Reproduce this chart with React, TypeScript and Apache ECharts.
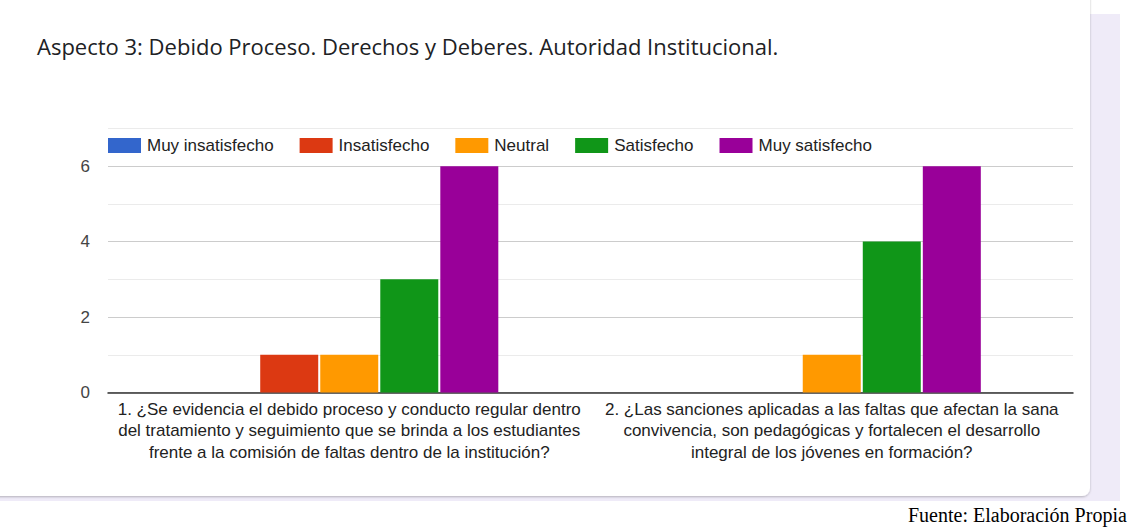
import React, { useEffect, useRef } from "react";
import * as echarts from "echarts";

const categories = [
  "1. ¿Se evidencia el debido proceso y conducto regular dentro\ndel tratamiento y seguimiento que se brinda a los estudiantes\nfrente a la comisión de faltas dentro de la institución?",
  "2. ¿Las sanciones aplicadas a las faltas que afectan la sana\nconvivencia, son pedagógicas y fortalecen el desarrollo\nintegral de los jóvenes en formación?",
];
const seriesNames = ["Muy insatisfecho", "Insatisfecho", "Neutral", "Satisfecho", "Muy satisfecho"];
const seriesColors = ["#3366cc", "#dc3912", "#ff9900", "#109618", "#990099"];
const muyInsatisfecho = [0, 0];
const insatisfecho = [1, 0];
const neutral = [1, 1];
const satisfecho = [3, 4];
const muySatisfecho = [6, 6];
const seriesValues = [muyInsatisfecho, insatisfecho, neutral, satisfecho, muySatisfecho];
const yTicks = [0, 1, 2, 3, 4, 5, 6, 7];

const titleText = "Aspecto 3: Debido Proceso. Derechos y Deberes. Autoridad Institucional.";
const sourceText = "Fuente: Elaboración Propia";

export default function App() {
  const ref = useRef<HTMLDivElement>(null);
  useEffect(() => {
    document.body.style.margin = "0";
    const chart = echarts.init(ref.current!, undefined, { renderer: "svg" });
    const font = "'Liberation Sans', Arial, sans-serif";
    chart.setOption({
      animation: false,
      backgroundColor: "#ffffff",
      graphic: [
        { type: "rect", z: -10, silent: true, shape: { x: 0, y: 14, width: 1120, height: 487 }, style: { fill: "#efebf8" } },
        {
          type: "rect", z: -9, silent: true,
          shape: { x: -20, y: -20, width: 1110, height: 516, r: 8 },
          style: { fill: "#ffffff", shadowBlur: 2, shadowColor: "rgba(0,0,0,0.25)", shadowOffsetY: 1 },
        },
        {
          type: "text", x: 908, y: 515, silent: true,
          style: { text: sourceText, font: "20px 'Liberation Serif', 'Times New Roman', serif", fill: "#000000", verticalAlign: "middle" },
        },
      ],
      title: {
        text: titleText,
        left: 32,
        top: 30,
        textStyle: { fontFamily: "'Open Sans', Roboto, sans-serif", fontSize: 22, fontWeight: "normal", color: "#202124" },
      },
      legend: {
        left: 108,
        top: 137,
        padding: 0,
        icon: "rect",
        itemWidth: 33,
        itemHeight: 15,
        itemGap: 26,
        data: seriesNames,
        textStyle: { fontFamily: font, fontSize: 17, color: "#222222", padding: [0, 0, 0, 1] },
      },
      grid: { left: 108, right: 61, top: 128.4, bottom: 138.5, containLabel: false },
      xAxis: {
        type: "category",
        data: categories,
        axisTick: { show: false },
        axisLine: { lineStyle: { color: "#333333", width: 1.5 } },
        axisLabel: { interval: 0, fontFamily: font, fontSize: 17, color: "#222222", lineHeight: 21.5, margin: 6, align: "center" },
        splitLine: { show: false },
      },
      yAxis: {
        type: "value",
        min: yTicks[0],
        max: yTicks[yTicks.length - 1],
        interval: 1,
        axisLine: { show: false },
        axisTick: { show: false },
        axisLabel: {
          fontFamily: font, fontSize: 17, color: "#444444", margin: 18,
          formatter: (v: number) => (v % 2 === 0 && v < 7 ? String(v) : ""),
        },
        splitLine: { lineStyle: { color: ["#cccccc", "#ebebeb"], width: 1 } },
      },
      series: seriesNames.map((name, i) => ({
        name,
        type: "bar",
        data: seriesValues[i],
        barWidth: 58,
        barGap: "3.5%",
        itemStyle: { color: seriesColors[i] },
      })),
    });
    return () => chart.dispose();
  }, []);
  return <div ref={ref} style={{ width: 1134, height: 531 }} />;
}
